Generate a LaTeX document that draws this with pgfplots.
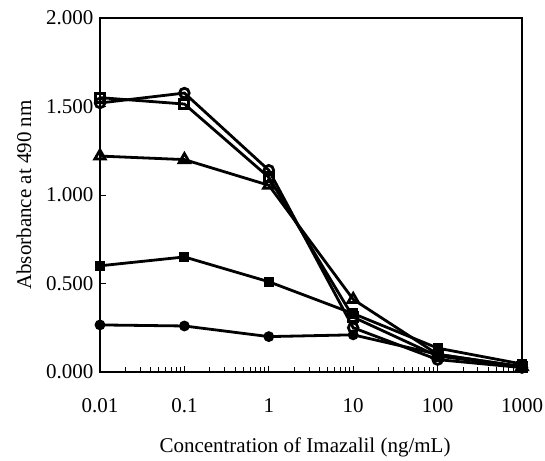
\documentclass[border=0pt]{standalone}
\usepackage{fontspec}
\setmainfont{Liberation Serif}
\usepackage{pgfplots}
\pgfplotsset{compat=1.18}

\begin{document}
\begin{tikzpicture}
\begin{axis}[
    name=main,
    scale only axis,
    width=422pt, height=354pt,
    xmode=log,
    xmin=0.01, xmax=1000,
    ymin=0, ymax=2,
    axis line style={line width=2pt},
    font=\fontsize{21}{24}\selectfont,
    xtick={0.01,0.1,1,10,100,1000},
    xticklabels={0.01,0.1,1,10,100,1000},
    ytick={0,0.5,1,1.5,2},
    y tick label style={/pgf/number format/fixed, /pgf/number format/fixed zerofill, /pgf/number format/precision=3},
    /pgf/number format/assume math mode=true,
    tick align=inside,
    xtick pos=bottom, ytick pos=left,
    major tick length=6pt, minor tick length=5pt,
    every tick/.style={black, line width=1pt},
    x tick label style={yshift=-23pt},
    y tick label style={xshift=-3pt},
    xlabel={Concentration of Imazalil (ng/mL)},
    ylabel={Absorbance at 490 nm},
    xlabel style={at={(axis description cs:0.5,-0.213)}, anchor=center, xshift=-6pt},
    ylabel style={at={(axis description cs:-0.180,0.5)}, anchor=center},
    clip=false,
    every axis plot/.append style={black, line width=2.8pt, mark options={solid, line width=1.2pt}},
]
\addplot[mark=*, mark size=4.8pt] coordinates {(0.01,0.266) (0.1,0.26) (1,0.20) (10,0.21) (100,0.10) (1000,0.03)};
\addplot[mark=square*, mark size=4.5pt] coordinates {(0.01,0.60) (0.1,0.65) (1,0.51) (10,0.33) (100,0.135) (1000,0.045)};
\addplot[mark=triangle, mark size=6pt, mark options={fill=white}] coordinates {(0.01,1.22) (0.1,1.20) (1,1.055) (10,0.41) (100,0.10) (1000,0.03)};
\addplot[mark=square, mark size=4.5pt, mark options={fill=white}] coordinates {(0.01,1.55) (0.1,1.514) (1,1.10) (10,0.31) (100,0.09) (1000,0.03)};
\addplot[mark=o, mark size=4.8pt, mark options={fill=white}] coordinates {(0.01,1.52) (0.1,1.576) (1,1.14) (10,0.25) (100,0.07) (1000,0.025)};
\end{axis}
\pgfresetboundingbox
\path (main.south west) ++(-100pt,-88pt) rectangle ++(545pt,460pt);
\end{tikzpicture}
\end{document}
